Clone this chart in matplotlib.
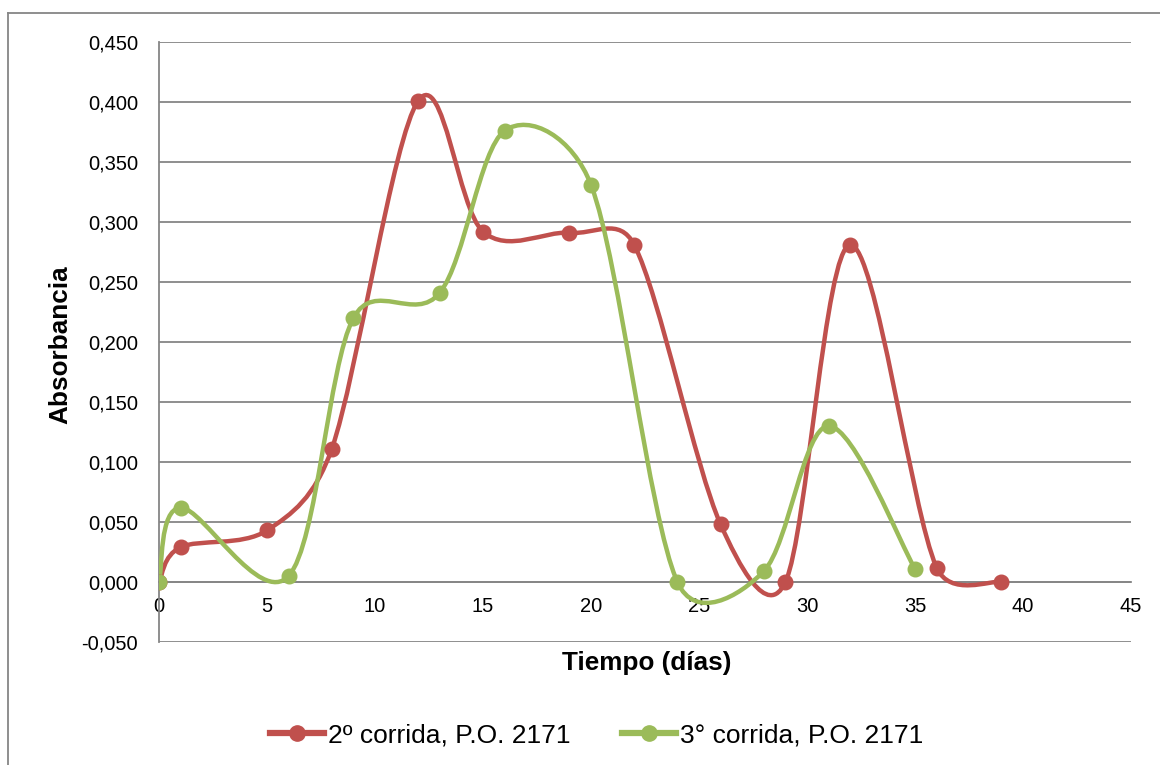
import matplotlib.pyplot as plt
from matplotlib.path import Path
from matplotlib.patches import PathPatch
from matplotlib.lines import Line2D
from matplotlib.ticker import FuncFormatter
import numpy as np

plt.rcParams['font.family'] = ['Liberation Sans', 'DejaVu Sans']

# datos
dias_2 = [0, 1, 5, 8, 12, 15, 19, 22, 26, 29, 32, 36, 39]
abs_2 = [0.000, 0.029, 0.043, 0.111, 0.401, 0.292, 0.291, 0.281, 0.048, 0.000, 0.281, 0.012, 0.000]

dias_3 = [0, 1, 6, 9, 13, 16, 20, 24, 28, 31, 35]
abs_3 = [0.000, 0.062, 0.005, 0.220, 0.241, 0.376, 0.331, 0.000, 0.009, 0.130, 0.011]

etiquetas = ["2º corrida, P.O. 2171", "3° corrida, P.O. 2171"]
colores = ["#C0504D", "#9BBB59"]


# curva suavizada tipo Excel: Bezier con tension 1/6, calculada en pixeles,
# con el largo de cada control limitado a la mitad del tramo
def curva_suave(ax, xs, ys, k=0.5):
    pts = ax.transData.transform(np.column_stack([xs, ys]))
    n = len(pts)
    verts = [pts[0]]
    codes = [Path.MOVETO]
    for i in range(n - 1):
        p0 = pts[i - 1] if i > 0 else pts[i]
        p1 = pts[i]
        p2 = pts[i + 1]
        p3 = pts[i + 2] if i + 2 < n else pts[i + 1]
        seg = np.hypot(*(p2 - p1))
        h1 = (p2 - p0) / 6
        h2 = (p3 - p1) / 6
        for h in (h1, h2):
            largo = np.hypot(*h)
            if largo > k * seg:
                h *= k * seg / largo
        verts += [p1 + h1, p2 - h2, p2]
        codes += [Path.CURVE4] * 3
    verts = ax.transData.inverted().transform(np.array(verts))
    return Path(verts, codes)


fig = plt.figure(figsize=(11.6, 7.65), dpi=100)
ax = fig.add_axes([159 / 1160, 123 / 765, 972 / 1160, 600 / 765])
ax.set_xlim(0, 45)
ax.set_ylim(-0.05, 0.45)

gris = "#868686"
for serie, (xs, ys) in enumerate([(dias_2, abs_2), (dias_3, abs_3)]):
    patch = PathPatch(curva_suave(ax, xs, ys), facecolor='none', edgecolor=colores[serie],
                      lw=3.2, capstyle='round', joinstyle='round', zorder=3)
    ax.add_patch(patch)
    ax.plot(xs, ys, 'o', color=colores[serie], markersize=10.5, zorder=4)

ax.set_xticks(range(0, 46, 5))
ax.set_yticks([i * 0.05 for i in range(-1, 10)])
ax.yaxis.set_major_formatter(FuncFormatter(lambda v, p: f"{v:.3f}".replace('.', ',').replace('-0,000', '0,000')))

ax.grid(axis='y', color=gris, lw=1.3)
ax.set_axisbelow(True)
for s in ['top', 'right']:
    ax.spines[s].set_visible(False)
ax.spines['bottom'].set_position(('data', 0))
ax.spines['bottom'].set_color(gris)
ax.spines['bottom'].set_linewidth(1.3)
ax.spines['left'].set_color(gris)
ax.spines['left'].set_linewidth(1.3)
ax.tick_params(axis='x', length=0, pad=11, labelsize=14.5)
ax.tick_params(axis='y', length=0, pad=15, labelsize=14.5)

fig.text(647 / 1160, 1 - 663 / 765, "Tiempo (días)", ha='center', va='center',
         fontsize=18.8, fontweight='bold')
fig.text(60 / 1160, 1 - 345 / 765, "Absorbancia", ha='center', va='center',
         rotation=90, fontsize=18.8, fontweight='bold')

handles = [Line2D([], [], color=c, lw=4.5, marker='o', markersize=11) for c in colores]
fig.legend(handles, etiquetas, loc='center', bbox_to_anchor=(597 / 1160, 1 - 735 / 765),
           ncol=2, frameon=False, fontsize=19, handlelength=2.05, handletextpad=0.15,
           columnspacing=1.95)

# marco del area del grafico
fig.add_artist(Line2D([8 / 1160, 8 / 1160], [1 - 13 / 765, 0], color=gris, lw=1.3))
fig.add_artist(Line2D([8 / 1160, 1], [1 - 13 / 765, 1 - 13 / 765], color=gris, lw=1.3))

fig.savefig("out.png", dpi=100)
